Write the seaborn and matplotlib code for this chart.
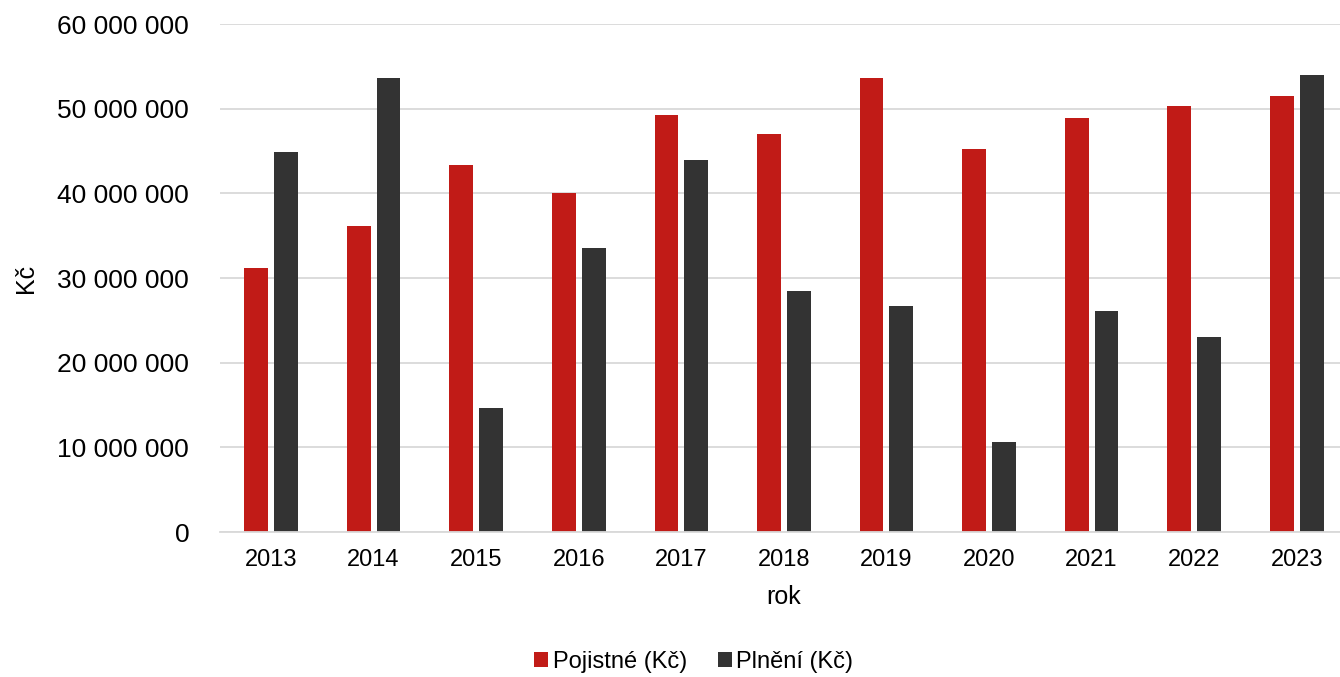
import pandas as pd
import seaborn as sns
import matplotlib.pyplot as plt
from matplotlib.ticker import FuncFormatter

# Data
years = ['2013', '2014', '2015', '2016', '2017', '2018', '2019', '2020', '2021', '2022', '2023']
pojistne = [31.2e6, 36.1e6, 43.4e6, 40.0e6, 49.3e6, 47.0e6, 53.6e6, 45.2e6, 48.9e6, 50.3e6, 51.5e6]
plneni = [44.9e6, 53.6e6, 14.7e6, 33.5e6, 43.9e6, 28.5e6, 26.7e6, 10.6e6, 26.1e6, 23.1e6, 54.0e6]
series_names = ['Pojistné (Kč)', 'Plnění (Kč)']

df = pd.DataFrame({'rok': years, series_names[0]: pojistne, series_names[1]: plneni})
long = df.melt(id_vars='rok', var_name='serie', value_name='Kč')

sns.set_style('white')
plt.rcParams['font.family'] = ['Liberation Sans', 'DejaVu Sans']
plt.rcParams['text.color'] = 'black'
plt.rcParams['axes.labelcolor'] = 'black'
plt.rcParams['xtick.color'] = 'black'
plt.rcParams['ytick.color'] = 'black'

fig, ax = plt.subplots(figsize=(13.4, 6.77), dpi=100)
fig.subplots_adjust(left=0.164, right=1.006, top=0.9645, bottom=0.214)

sns.barplot(data=long, x='rok', y='Kč', hue='serie',
            palette=['#C11B17', '#333333'], saturation=1, width=0.58, gap=0.2,
            linewidth=0, ax=ax)

ax.set_ylim(0, 60e6)
ax.set_yticks(range(0, 60000001, 10000000))
ax.yaxis.set_major_formatter(FuncFormatter(lambda v, p: f'{int(v):,}'.replace(',', ' ')))
ax.grid(axis='y', color='#D9D9D9', linewidth=1.3)
ax.set_axisbelow(True)
for s in ['top', 'right', 'left']:
    ax.spines[s].set_visible(False)
ax.spines['bottom'].set_color('#D9D9D9')
ax.spines['bottom'].set_linewidth(1.3)
ax.tick_params(axis='y', labelsize=19, length=0, pad=22)
ax.tick_params(axis='x', labelsize=17, length=0, pad=12)
ax.set_xlabel('rok', fontsize=18, labelpad=10)
ax.set_ylabel('Kč', fontsize=18, labelpad=14)

handles, labels = ax.get_legend_handles_labels()
ax.legend(handles, labels, loc='center', bbox_to_anchor=(0.42, -0.256),
          ncol=2, frameon=False, fontsize=17, handlelength=0.6, handleheight=0.6,
          handletextpad=0.2, columnspacing=1.3, borderpad=0)

plt.savefig('out.png', dpi=100)
